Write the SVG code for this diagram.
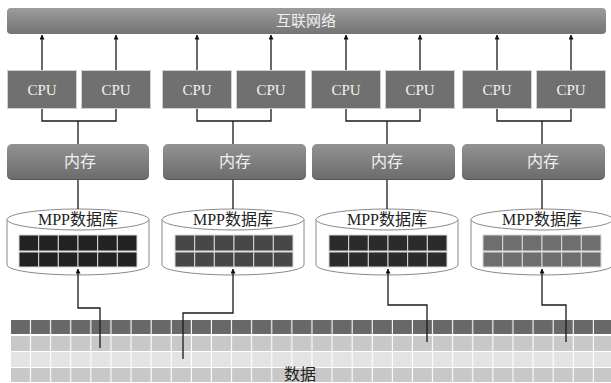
<svg xmlns="http://www.w3.org/2000/svg" width="611" height="383" viewBox="0 0 611 383">
<defs>
<linearGradient id="gBar" x1="0" y1="0" x2="0" y2="1"><stop offset="0" stop-color="#9c9c9c"/><stop offset="1" stop-color="#747474"/></linearGradient>
<linearGradient id="gMem" x1="0" y1="0" x2="0" y2="1"><stop offset="0" stop-color="#929292"/><stop offset="1" stop-color="#6c6c6c"/></linearGradient>
<marker id="ah" viewBox="0 0 6 6" refX="5.5" refY="3" markerWidth="5" markerHeight="5" orient="auto" markerUnits="userSpaceOnUse"><path d="M0,0 L6,3 L0,6 Z" fill="#111"/></marker>
<pattern id="p1" x="11" y="320" width="20.1" height="14" patternUnits="userSpaceOnUse"><rect x="0" y="0" width="19" height="14" fill="#686868"/></pattern>
<pattern id="p2" x="11" y="336" width="20.1" height="15" patternUnits="userSpaceOnUse"><rect x="0" y="0" width="19" height="15" fill="#c8c8c8"/></pattern>
<pattern id="p3" x="11" y="352" width="20.1" height="15" patternUnits="userSpaceOnUse"><rect x="0" y="0" width="19" height="15" fill="#e3e3e3"/></pattern>
<pattern id="p4" x="11" y="368" width="20.1" height="14" patternUnits="userSpaceOnUse"><rect x="0" y="0" width="19" height="14" fill="#c8c8c8"/></pattern>
</defs>
<style>
.cpu{fill:#707070;stroke:#d0d0d0;stroke-width:1}
.cput{font-family:"Liberation Serif",serif;font-size:15px;fill:#f2f2f2;text-anchor:middle}
.mem{fill:url(#gMem)}
.memsh{fill:#555}
.memt{font-family:"Liberation Serif","Noto Sans CJK SC",serif;font-size:16px;fill:#f0f0f0;text-anchor:middle}
.cyl{fill:#fff;stroke:#8a8a8a;stroke-width:1}
.dbt{font-family:"Liberation Serif","Noto Sans CJK SC",serif;font-size:16px;fill:#222;text-anchor:middle}
.cell{stroke:#d8d8d8;stroke-width:1}
.ln{fill:none;stroke:#1a1a1a;stroke-width:1.3}
.lna{fill:none;stroke:#1a1a1a;stroke-width:1.3;marker-end:url(#ah)}
</style>
<g id="network">
<rect x="7" y="8" width="599" height="26" rx="4" fill="url(#gBar)"/>
<text x="306" y="26" class="memt" style="font-size:15px">互联网络</text>
</g>
<g id="cpus">
<rect class="cpu" x="7.5" y="70.5" width="69" height="38"/><text class="cput" x="42" y="95">CPU</text>
<rect class="cpu" x="81.5" y="70.5" width="69" height="38"/><text class="cput" x="116" y="95">CPU</text>
<rect class="cpu" x="162.5" y="70.5" width="69" height="38"/><text class="cput" x="197" y="95">CPU</text>
<rect class="cpu" x="236.5" y="70.5" width="69" height="38"/><text class="cput" x="271" y="95">CPU</text>
<rect class="cpu" x="311.5" y="70.5" width="69" height="38"/><text class="cput" x="346" y="95">CPU</text>
<rect class="cpu" x="385.5" y="70.5" width="69" height="38"/><text class="cput" x="420" y="95">CPU</text>
<rect class="cpu" x="462.5" y="70.5" width="69" height="38"/><text class="cput" x="497" y="95">CPU</text>
<rect class="cpu" x="536.5" y="70.5" width="69" height="38"/><text class="cput" x="571" y="95">CPU</text>
</g>
<g id="memory">
<rect class="memsh" x="7" y="146" width="142" height="34" rx="5"/><rect class="mem" x="7" y="144" width="142" height="35" rx="5"/><text class="memt" x="80" y="167">内存</text>
<rect class="memsh" x="163" y="146" width="143" height="34" rx="5"/><rect class="mem" x="163" y="144" width="143" height="35" rx="5"/><text class="memt" x="235" y="167">内存</text>
<rect class="memsh" x="312" y="146" width="143" height="34" rx="5"/><rect class="mem" x="312" y="144" width="143" height="35" rx="5"/><text class="memt" x="387" y="167">内存</text>
<rect class="memsh" x="462" y="146" width="143" height="34" rx="5"/><rect class="mem" x="462" y="144" width="143" height="35" rx="5"/><text class="memt" x="543" y="167">内存</text>
</g>
<g id="db1">
<path class="cyl" d="M7,219.5 V265 A71,10 0 0 0 149,265 V219.5"/>
<ellipse class="cyl" cx="78" cy="219.5" rx="71" ry="10.5"/>
<text class="dbt" x="78" y="225">MPP数据库</text>
<g fill="#222" class="cell">
<rect x="19" y="235" width="19.67" height="16"/><rect x="38.67" y="235" width="19.67" height="16"/><rect x="58.33" y="235" width="19.67" height="16"/><rect x="78" y="235" width="19.67" height="16"/><rect x="97.67" y="235" width="19.67" height="16"/><rect x="117.33" y="235" width="19.67" height="16"/>
<rect x="19" y="252" width="19.67" height="15"/><rect x="38.67" y="252" width="19.67" height="15"/><rect x="58.33" y="252" width="19.67" height="15"/><rect x="78" y="252" width="19.67" height="15"/><rect x="97.67" y="252" width="19.67" height="15"/><rect x="117.33" y="252" width="19.67" height="15"/>
</g>
</g>
<g id="db2">
<path class="cyl" d="M162,219.5 V265 A71,10 0 0 0 304,265 V219.5"/>
<ellipse class="cyl" cx="233" cy="219.5" rx="71" ry="10.5"/>
<text class="dbt" x="233" y="225">MPP数据库</text>
<g fill="#474747" class="cell">
<rect x="175" y="235" width="19.67" height="16"/><rect x="194.67" y="235" width="19.67" height="16"/><rect x="214.33" y="235" width="19.67" height="16"/><rect x="234" y="235" width="19.67" height="16"/><rect x="253.67" y="235" width="19.67" height="16"/><rect x="273.33" y="235" width="19.67" height="16"/>
<rect x="175" y="252" width="19.67" height="15"/><rect x="194.67" y="252" width="19.67" height="15"/><rect x="214.33" y="252" width="19.67" height="15"/><rect x="234" y="252" width="19.67" height="15"/><rect x="253.67" y="252" width="19.67" height="15"/><rect x="273.33" y="252" width="19.67" height="15"/>
</g>
</g>
<g id="db3">
<path class="cyl" d="M316,219.5 V265 A71,10 0 0 0 458,265 V219.5"/>
<ellipse class="cyl" cx="387" cy="219.5" rx="71" ry="10.5"/>
<text class="dbt" x="387" y="225">MPP数据库</text>
<g fill="#2b2b2b" class="cell">
<rect x="329" y="235" width="19.67" height="16"/><rect x="348.67" y="235" width="19.67" height="16"/><rect x="368.33" y="235" width="19.67" height="16"/><rect x="388" y="235" width="19.67" height="16"/><rect x="407.67" y="235" width="19.67" height="16"/><rect x="427.33" y="235" width="19.67" height="16"/>
<rect x="329" y="252" width="19.67" height="15"/><rect x="348.67" y="252" width="19.67" height="15"/><rect x="368.33" y="252" width="19.67" height="15"/><rect x="388" y="252" width="19.67" height="15"/><rect x="407.67" y="252" width="19.67" height="15"/><rect x="427.33" y="252" width="19.67" height="15"/>
</g>
</g>
<g id="db4">
<path class="cyl" d="M471,219.5 V265 A71,10 0 0 0 613,265 V219.5"/>
<ellipse class="cyl" cx="542" cy="219.5" rx="71" ry="10.5"/>
<text class="dbt" x="542" y="225">MPP数据库</text>
<g fill="#6e6e6e" class="cell">
<rect x="483" y="235" width="19.67" height="16"/><rect x="502.67" y="235" width="19.67" height="16"/><rect x="522.33" y="235" width="19.67" height="16"/><rect x="542" y="235" width="19.67" height="16"/><rect x="561.67" y="235" width="19.67" height="16"/><rect x="581.33" y="235" width="19.67" height="16"/>
<rect x="483" y="252" width="19.67" height="15"/><rect x="502.67" y="252" width="19.67" height="15"/><rect x="522.33" y="252" width="19.67" height="15"/><rect x="542" y="252" width="19.67" height="15"/><rect x="561.67" y="252" width="19.67" height="15"/><rect x="581.33" y="252" width="19.67" height="15"/>
</g>
</g>
<g id="data">
<rect x="11" y="320" width="600" height="14" fill="url(#p1)"/>
<rect x="11" y="336" width="600" height="15" fill="url(#p2)"/>
<rect x="11" y="352" width="600" height="15" fill="url(#p3)"/>
<rect x="11" y="368" width="600" height="14" fill="url(#p4)"/>
<text class="dbt" x="300" y="380">数据</text>
</g>
<g id="connectors">
<path class="lna" d="M42,70 V35"/><path class="lna" d="M116,70 V35"/>
<path class="lna" d="M197,70 V35"/><path class="lna" d="M271,70 V35"/>
<path class="lna" d="M346,70 V35"/><path class="lna" d="M420,70 V35"/>
<path class="lna" d="M497,70 V35"/><path class="lna" d="M571,70 V35"/>
<path class="ln" d="M42,109 V121 H116 V109 M78,121 V144"/>
<path class="ln" d="M197,109 V121 H271 V109 M233,121 V144"/>
<path class="ln" d="M346,109 V121 H420 V109 M387,121 V144"/>
<path class="ln" d="M497,109 V121 H571 V109 M542,121 V144"/>
<path class="ln" d="M78,180 V209"/><path class="ln" d="M233,180 V209"/>
<path class="ln" d="M387,180 V209"/><path class="ln" d="M542,180 V209"/>
<path class="lna" d="M100,348 V308 H78 V269"/>
<path class="lna" d="M183,359 V313 H233 V269"/>
<path class="lna" d="M427,342 V305 H388 V269"/>
<path class="lna" d="M566,342 V305 H542 V269"/>
</g>
</svg>
